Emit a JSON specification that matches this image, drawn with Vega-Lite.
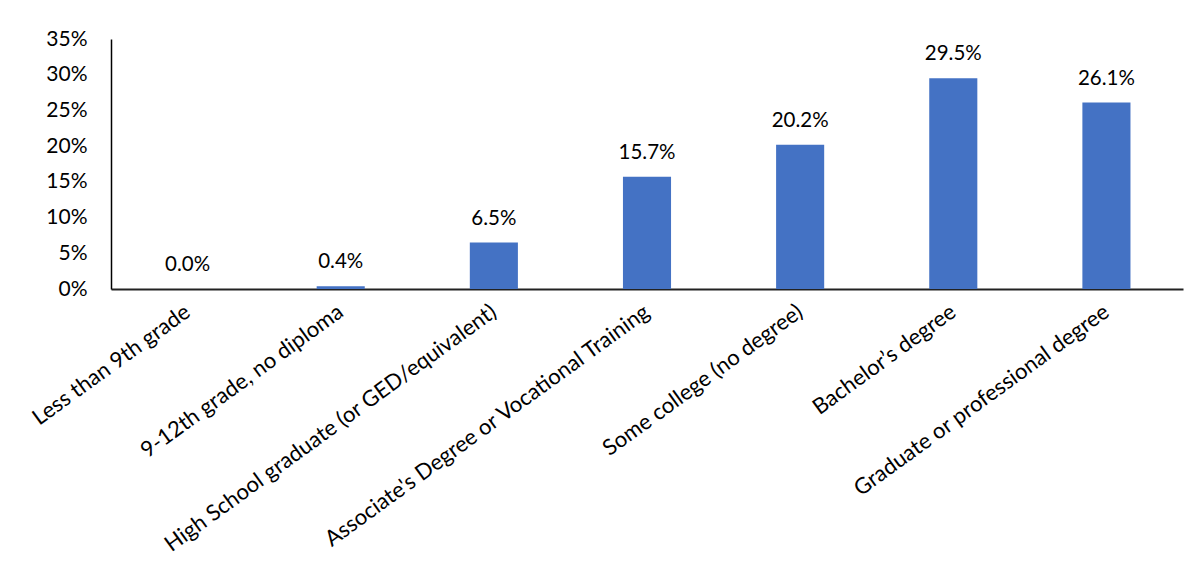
{
  "$schema": "https://vega.github.io/schema/vega-lite/v6.json",
  "autosize": {"type": "none"},
  "width": 1072,
  "height": 250,
  "padding": {"left": 111, "top": 39, "right": 21, "bottom": 280},
  "background": "white",
  "config": {
    "view": {"stroke": null},
    "font": "Lato",
    "axis": {"labelFont": "Lato", "labelColor": "black"}
  },
  "data": {
    "values": [
      {"category": "Less than 9th grade", "value": 0.0},
      {"category": "9-12th grade, no diploma", "value": 0.004},
      {"category": "High School graduate (or GED/equivalent)", "value": 0.065},
      {"category": "Associate's Degree or Vocational Training", "value": 0.157},
      {"category": "Some college (no degree)", "value": 0.202},
      {"category": "Bachelor’s degree", "value": 0.295},
      {"category": "Graduate or professional degree", "value": 0.261}
    ]
  },
  "encoding": {
    "x": {
      "field": "category",
      "type": "nominal",
      "sort": null,
      "scale": {"paddingInner": 0.686, "paddingOuter": 0.343},
      "axis": {
        "title": null,
        "ticks": false,
        "labelAngle": -36,
        "labelAlign": "right",
        "labelBaseline": "middle",
        "labelPadding": 20,
        "labelFontSize": 22,
        "labelLimit": 700,
        "domainColor": "#222222",
        "domainWidth": 2
      }
    },
    "y": {
      "field": "value",
      "type": "quantitative",
      "scale": {"domain": [0, 0.35], "nice": false},
      "axis": {
        "title": null,
        "values": [0, 0.05, 0.1, 0.15, 0.2, 0.25, 0.3, 0.35],
        "format": ".0%",
        "grid": false,
        "ticks": false,
        "labelFontSize": 21,
        "labelPadding": 24,
        "domainColor": "black",
        "domainWidth": 1.5
      }
    }
  },
  "layer": [
    {"mark": {"type": "bar", "color": "#4472C4"}},
    {
      "mark": {"type": "text", "baseline": "alphabetic", "dy": -18, "fontSize": 20.5, "color": "black", "font": "Lato"},
      "encoding": {"text": {"field": "value", "type": "quantitative", "format": ".1%"}}
    }
  ]
}
